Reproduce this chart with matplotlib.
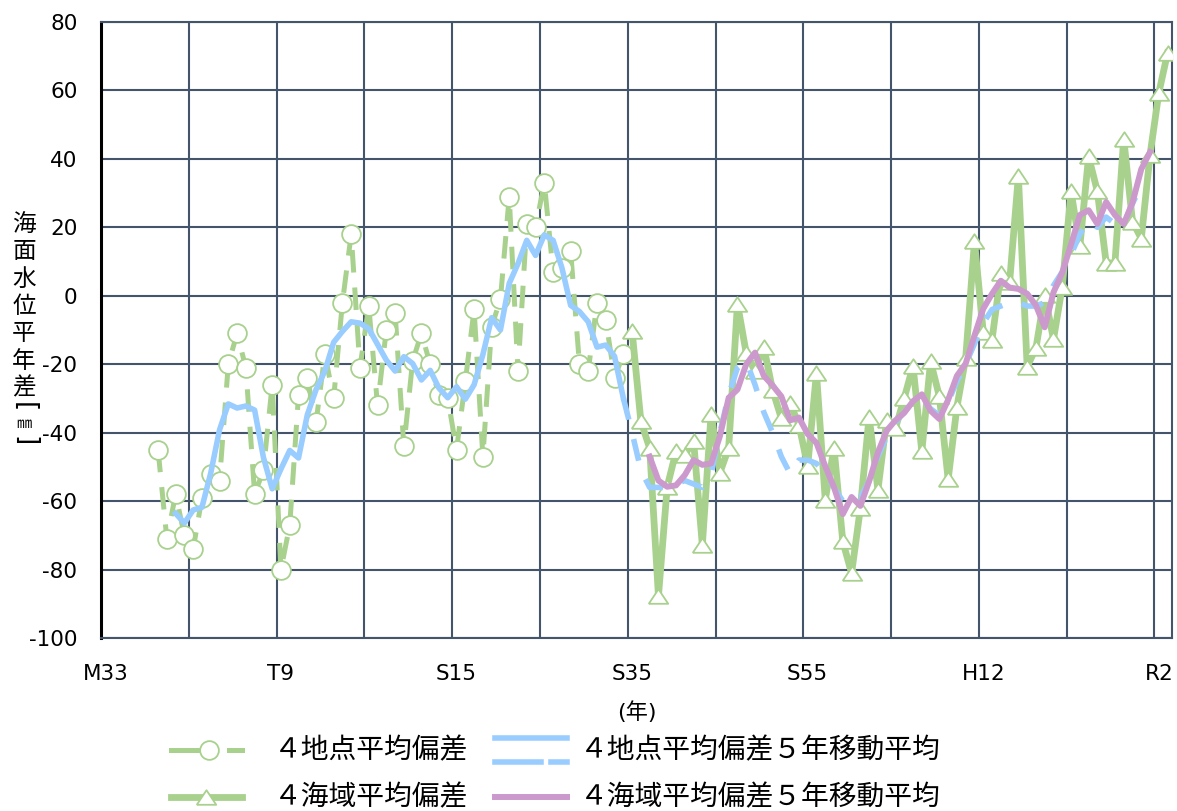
import numpy as np
import matplotlib
matplotlib.use("Agg")
import matplotlib.pyplot as plt
from matplotlib.lines import Line2D

plt.rcParams['font.family'] = ['DejaVu Sans', 'Noto Sans CJK JP']
plt.rcParams['axes.unicode_minus'] = False

# ---------------- data ----------------
years_4pt = np.arange(1906, 1960)
dev_4pt = [-45, -71, -58, -70, -74, -59, -52, -54, -20, -11,
           -21, -58, -51, -26, -80, -67, -29, -24, -37, -17,
           -30, -2, 18, -21, -3, -32, -10, -5, -44, -19,
           -11, -20, -29, -30, -45, -25, -4, -47, -9, -1,
           29, -22, 21, 20, 33, 7, 8, 13, -20, -22,
           -2, -7, -24, -17]

years_sea = np.arange(1960, 2022)
dev_sea = [-10.4, -36.7, -44.5, -87.7, -55.8, -45.5, -46.5, -42.4, -72.8, -34.5,
           -51.7, -44.5, -2.3, -16.8, -22.1, -15.0, -27.5, -35.8, -31.4, -37.7,
           -49.7, -22.6, -59.6, -44.5, -71.8, -81.1, -62.1, -35.3, -56.7, -36.3,
           -38.7, -29.9, -20.5, -45.5, -19.2, -29.4, -53.6, -32.5, -18.2, 15.9,
           -10.6, -12.8, 6.6, 4.0, 34.9, -20.7, -15.3, 0.3, -12.7, 2.7,
           30.5, 14.4, 40.7, 30.5, 9.6, 9.6, 45.9, 21.7, 16.7, 41.2,
           59.3, 71.0]

years_ma4pt = np.arange(1908, 2019)
ma_4pt = [-63.6, -66.4, -62.6, -61.8, -51.8, -39.2, -31.6, -32.8, -32.2, -33.4,
          -47.2, -56.4, -50.6, -45.2, -47.4, -34.8, -27.4, -22.0, -13.6, -10.4,
          -7.6, -8.0, -9.6, -14.2, -18.8, -22.0, -17.8, -19.8, -24.6, -21.8,
          -27.0, -29.8, -26.6, -30.2, -26.0, -17.2, -6.4, -10.0, 3.6, 9.4,
          16.2, 11.8, 17.8, 16.2, 8.2, -2.8, -4.6, -7.6, -15.0, -14.4,
          -17.7, -29.9,
          -40, -51, -56, -56, -56, -55, -54, -55, -56, -52,
          -40, -29, -21, -19, -26, -34, -40, -47, -52, -48,
          -48, -49, -52, -56, -60, -58, -59, -54, -47, -41,
          -37, -34, -31, -30, -33, -35, -31, -25, -20, -14,
          -8, -4, -3, -2, -2, -3, -3, -2, 3, 7,
          12, 18, 22, 20, 23, 21, 21, 27, 32]
ma_4pt_solid_end = 1959  # solid up to this year, dashed after

years_masea = np.arange(1962, 2020)
ma_sea = [-47.0, -54.0, -55.8, -55.4, -52.4, -48.0, -49.4, -49.0, -41.0, -29.8,
          -27.4, -20.0, -16.6, -23.4, -26.2, -29.4, -36.4, -35.6, -40.4, -43.0,
          -49.8, -56.0, -63.8, -58.8, -61.4, -54.2, -45.8, -39.4, -36.4, -34.2,
          -30.8, -28.8, -33.6, -36.0, -30.4, -23.4, -19.8, -11.6, -3.8, 0.6,
          4.4, 2.4, 2.0, 0.6, -2.8, -9.2, 1.0, 6.8, 15.0, 23.6,
          25.0, 21.0, 27.4, 23.6, 21.0, 27.2, 37.0, 42.0]

tick_years = [1900, 1920, 1940, 1960, 1980, 2000, 2020]
tick_labels = ["M33", "T9", "S15", "S35", "S55", "H12", "R2"]

labels = ["４地点平均偏差", "４海域平均偏差",
          "４地点平均偏差５年移動平均", "４海域平均偏差５年移動平均"]
ylabel_chars = ["海", "面", "水", "位", "平", "年", "差"]

# ---------------- style ----------------
GREEN = "#A9D18E"
BLUE = "#99CCFF"
PINK = "#CC99CC"
GRID = "#44546A"
W, H = 1177, 811

tri = [(-1, -0.75), (1, -0.75), (0, 0.75), (-1, -0.75)]

fig = plt.figure(figsize=(W / 100, H / 100), dpi=100)
ax = fig.add_axes([101 / W, 1 - 638 / H, 1071 / W, 616 / H])

ax.set_xlim(1899.5, 2021.5)
ax.set_ylim(-100, 80)
ax.set_yticks(np.arange(-100, 81, 20))
ax.set_xticks(tick_years)
ax.set_xticklabels(tick_labels)
ax.set_xticks(np.arange(1909.5, 2020, 10), minor=True)
ax.tick_params(which='both', length=0)
ax.tick_params(axis='x', which='major', pad=19, labelsize=15.5)
ax.tick_params(axis='y', which='major', pad=17, labelsize=15.5)
ax.grid(axis='y', which='major', color=GRID, lw=1.5, zorder=0)
ax.grid(axis='x', which='minor', color=GRID, lw=1.5, zorder=0)
ax.set_axisbelow(True)
for s in ['top', 'right', 'bottom']:
    ax.spines[s].set_color(GRID)
    ax.spines[s].set_linewidth(1.5)
ax.spines['left'].set_color('black')
ax.spines['left'].set_linewidth(2.2)

# series
ax.plot(years_4pt, dev_4pt, color=GREEN, lw=3.6, dashes=(4.5, 3),
        marker='o', ms=13.5, mfc='white', mec=GREEN, mew=1.3, zorder=3)
ax.plot(years_sea, dev_sea, color=GREEN, lw=4.9, solid_joinstyle='round',
        marker=tri, ms=14, mfc='white', mec=GREEN, mew=1.3, zorder=3)

ya = np.array(years_ma4pt)
va = np.array(ma_4pt, dtype=float)
m1 = ya <= ma_4pt_solid_end
m2 = ya >= ma_4pt_solid_end
ax.plot(ya[m1], va[m1], color=BLUE, lw=4.0, solid_joinstyle='round', zorder=4)
ax.plot(ya[m2], va[m2], color=BLUE, lw=4.0, dashes=(4.0, 3.6), zorder=4)
ax.plot(years_masea, ma_sea, color=PINK, lw=4.3, solid_joinstyle='round', zorder=5)

# y label (vertical stacked characters)
x_lab = 24 / W
ys = [225, 252, 279, 306, 333, 361, 388]
for ch, yy in zip(ylabel_chars, ys):
    fig.text(x_lab, 1 - yy / H, ch, ha='center', va='center', fontsize=17,
             family=['Noto Sans CJK JP'])
fig.text(x_lab, 1 - 407 / H, "[", ha='center', va='center', fontsize=19,
         rotation=270, family=['DejaVu Sans'])
fig.text(x_lab, 1 - 424 / H, "㎜", ha='center', va='center', fontsize=11,
         family=['Noto Sans CJK JP'])
fig.text(x_lab, 1 - 441 / H, "]", ha='center', va='center', fontsize=19,
         rotation=270, family=['DejaVu Sans'])

# x axis title
fig.text(637 / W, 1 - 712 / H, "(年)", ha='center', va='center', fontsize=16)

# legend (manual)
def fx(px):
    return px / W

def fy(py):
    return 1 - py / H

r1, r2 = 750, 797
fig.add_artist(Line2D([fx(171), fx(199)], [fy(r1), fy(r1)], color=GREEN, lw=3.6))
fig.add_artist(Line2D([fx(229), fx(242)], [fy(r1), fy(r1)], color=GREEN, lw=3.6))
fig.add_artist(Line2D([fx(209)], [fy(r1)], marker='o', ms=13.5, mfc='white',
                      mec=GREEN, mew=1.3, ls='none'))
fig.add_artist(Line2D([fx(171), fx(242)], [fy(r2), fy(r2)], color=GREEN, lw=4.9))
fig.add_artist(Line2D([fx(206)], [fy(r2)], marker=tri, ms=14, mfc='white',
                      mec=GREEN, mew=1.3, ls='none'))
fig.add_artist(Line2D([fx(495), fx(567)], [fy(r1 - 12), fy(r1 - 12)], color=BLUE, lw=4.0))
fig.add_artist(Line2D([fx(495), fx(541)], [fy(r1 + 12), fy(r1 + 12)], color=BLUE, lw=4.0))
fig.add_artist(Line2D([fx(551), fx(567)], [fy(r1 + 12), fy(r1 + 12)], color=BLUE, lw=4.0))
fig.add_artist(Line2D([fx(495), fx(567)], [fy(r2), fy(r2)], color=PINK, lw=4.3))

for txt, xx, yy in [(labels[0], 274, r1), (labels[1], 274, r2),
                    (labels[2], 580, r1), (labels[3], 580, r2)]:
    fig.text(fx(xx), fy(yy), txt, ha='left', va='center', fontsize=20,
             family=['Noto Sans CJK JP', 'DejaVu Sans'])

fig.savefig("out.png", dpi=100)
